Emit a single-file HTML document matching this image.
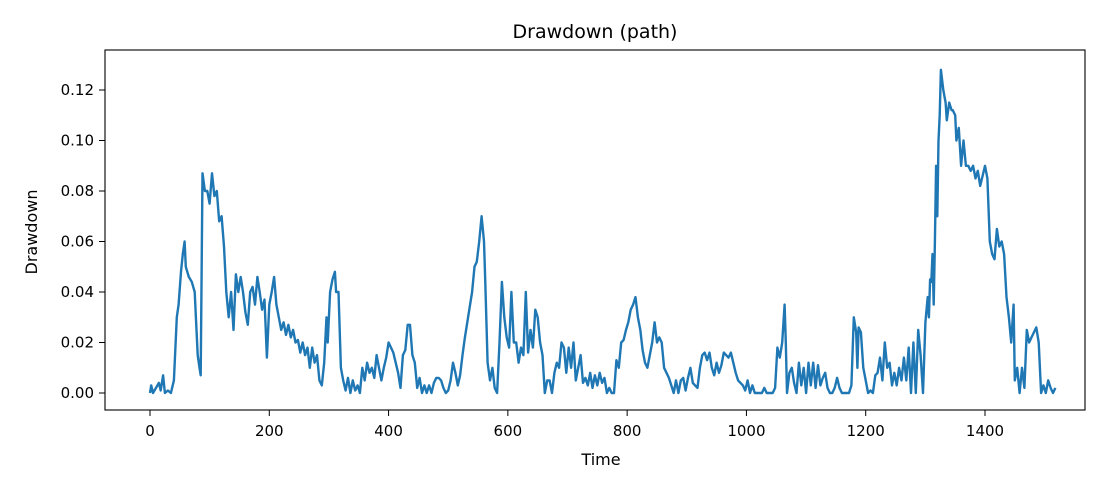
<!DOCTYPE html>
<html><head><meta charset="utf-8"><style>
body{margin:0;background:#fff;font-family:"Liberation Sans","DejaVu Sans",sans-serif}
</style></head><body>
<svg id="chart" width="1120" height="490" xmlns="http://www.w3.org/2000/svg" font-family="DejaVu Sans, Liberation Sans, sans-serif">
<rect width="1120" height="490" fill="#fff"/>
<text x="595" y="38" font-size="19" text-anchor="middle">Drawdown (path)</text>
<text x="601" y="465" font-size="16" text-anchor="middle">Time</text>
<text transform="translate(37,232) rotate(-90)" font-size="16" text-anchor="middle">Drawdown</text>
<g id="ticks"></g>
<path id="line" fill="none" stroke="#1f77b4" stroke-width="2.4" stroke-linejoin="round"/>
<rect x="105" y="50" width="980" height="360" fill="none" stroke="#000" stroke-width="1.1"/>
</svg>
<script>
const times=[0,2,5,10,15,18,22,25,30,35,40,45,48,52,55,58,60,65,70,75,78,80,83,85,88,92,96,100,104,108,112,116,120,124,128,132,136,140,144,148,152,156,160,164,168,172,176,180,184,188,192,196,200,204,208,212,216,220,224,228,232,236,240,244,248,252,256,260,264,268,272,276,280,284,288,292,296,298,302,306,310,312,316,320,324,328,332,336,340,344,348,352,356,360,364,368,372,376,380,384,388,392,396,400,404,408,412,416,420,424,428,432,436,440,444,448,452,456,460,464,468,472,476,480,484,488,492,496,500,504,508,512,516,520,524,528,532,536,540,544,548,552,556,560,562,566,570,574,578,582,586,590,594,598,602,606,610,614,618,622,626,630,634,638,642,646,650,654,658,662,666,670,674,678,682,686,690,694,698,702,706,710,714,718,722,726,730,734,738,742,746,750,754,758,762,766,770,774,778,782,786,790,794,798,802,806,810,814,818,822,826,830,834,838,842,846,850,854,858,862,866,870,874,878,882,886,890,894,898,902,906,910,914,918,922,926,930,934,938,942,946,950,954,958,962,966,970,974,978,982,986,990,994,998,1002,1006,1010,1014,1018,1022,1026,1030,1034,1040,1044,1048,1052,1056,1060,1064,1066,1068,1072,1076,1080,1084,1088,1092,1096,1100,1104,1108,1112,1116,1120,1124,1128,1132,1136,1140,1144,1148,1152,1156,1160,1164,1168,1172,1176,1180,1184,1186,1188,1192,1196,1200,1204,1208,1212,1216,1220,1224,1228,1232,1236,1240,1244,1248,1252,1256,1260,1264,1268,1272,1276,1280,1284,1288,1292,1296,1300,1304,1306,1308,1310,1312,1314,1316,1318,1320,1322,1324,1326,1330,1334,1336,1340,1344,1346,1350,1352,1356,1360,1364,1368,1372,1376,1380,1384,1388,1392,1396,1400,1404,1408,1412,1416,1420,1424,1428,1432,1436,1440,1444,1448,1450,1454,1458,1462,1466,1470,1474,1478,1482,1486,1490,1494,1498,1502,1506,1510,1514,1518];
const values=[0,0.003,0,0.002,0.004,0.001,0.007,0,0.001,0,0.005,0.03,0.035,0.048,0.055,0.06,0.05,0.046,0.044,0.04,0.025,0.015,0.01,0.007,0.087,0.08,0.08,0.075,0.087,0.078,0.08,0.068,0.07,0.058,0.04,0.03,0.04,0.025,0.047,0.04,0.046,0.04,0.032,0.027,0.04,0.042,0.035,0.046,0.04,0.033,0.037,0.014,0.035,0.04,0.046,0.035,0.03,0.025,0.028,0.023,0.027,0.022,0.025,0.02,0.021,0.016,0.02,0.015,0.018,0.01,0.018,0.012,0.015,0.005,0.003,0.012,0.03,0.02,0.04,0.045,0.048,0.04,0.04,0.01,0.005,0.001,0.006,0,0.005,0.001,0.003,0,0.01,0.005,0.012,0.008,0.01,0.006,0.015,0.01,0.005,0.01,0.014,0.02,0.018,0.016,0.012,0.008,0.002,0.015,0.017,0.027,0.027,0.015,0.012,0.002,0.006,0,0.003,0,0.003,0,0.004,0.006,0.006,0.005,0.002,0,0.001,0.005,0.012,0.008,0.003,0.007,0.015,0.022,0.028,0.034,0.04,0.05,0.052,0.06,0.07,0.06,0.045,0.012,0.005,0.01,0.002,0,0.02,0.044,0.03,0.022,0.018,0.04,0.02,0.02,0.012,0.018,0.015,0.04,0.016,0.025,0.018,0.033,0.03,0.02,0.015,0,0.005,0.005,0,0.008,0.012,0.01,0.02,0.018,0.008,0.018,0.01,0.02,0.005,0.01,0.015,0.004,0.006,0.003,0.008,0.002,0.007,0.003,0.008,0.004,0.006,0,0.002,0,0,0.013,0.01,0.02,0.021,0.025,0.028,0.033,0.035,0.038,0.03,0.025,0.017,0.012,0.01,0.015,0.02,0.028,0.02,0.022,0.02,0.01,0.008,0.006,0.003,0,0.005,0,0.005,0.006,0.001,0.006,0.01,0.004,0.003,0.002,0.01,0.015,0.016,0.013,0.016,0.01,0.007,0.012,0.008,0.011,0.016,0.015,0.014,0.016,0.012,0.008,0.005,0.004,0.003,0.001,0.005,0,0.003,0,0,0,0,0.002,0,0,0,0.002,0.018,0.014,0.02,0.035,0.02,0,0.008,0.01,0.004,0,0.012,0.003,0.01,0,0.012,0.003,0.012,0.002,0.011,0.003,0.006,0.008,0.002,0,0,0.002,0.006,0.002,0,0,0,0,0.003,0.03,0.024,0.01,0.026,0.024,0.01,0.005,0,0.001,0,0.007,0.008,0.014,0.005,0.02,0.01,0.012,0.003,0.008,0.003,0.01,0.005,0.014,0.005,0.018,0,0.02,0,0.025,0.015,0,0.028,0.038,0.03,0.045,0.044,0.055,0.035,0.06,0.09,0.07,0.1,0.11,0.128,0.12,0.115,0.108,0.115,0.112,0.112,0.11,0.1,0.105,0.09,0.1,0.09,0.09,0.088,0.09,0.085,0.088,0.082,0.086,0.09,0.085,0.06,0.055,0.053,0.065,0.058,0.06,0.055,0.038,0.03,0.02,0.035,0.005,0.01,0,0.01,0.002,0.025,0.02,0.022,0.024,0.026,0.02,0,0.003,0,0.005,0.002,0,0.002];
const xTicks=[0,200,400,600,800,1000,1200,1400];
const yTicks=[0,0.02,0.04,0.06,0.08,0.10,0.12];
const yTickLabels=["0.00","0.02","0.04","0.06","0.08","0.10","0.12"];
const X=t=>150+t*(835/1400);
const Y=v=>393-v*(303/0.12);
const NS='http://www.w3.org/2000/svg';
const g=document.getElementById('ticks');
xTicks.forEach(t=>{
 const l=document.createElementNS(NS,'line');
 
 
 l.setAttribute('x1',X(t));l.setAttribute('x2',X(t));l.setAttribute('y1',410);l.setAttribute('y2',416);l.setAttribute('stroke','#000');
 g.appendChild(l);
 const tx=document.createElementNS(NS,'text');
 
 
 tx.setAttribute('x',X(t));tx.setAttribute('y',436);tx.setAttribute('font-size','15');tx.setAttribute('text-anchor','middle');
 tx.textContent=t;g.appendChild(tx);
});
yTicks.forEach((v,i)=>{
 const l=document.createElementNS(NS,'line');
 
 
 l.setAttribute('x1',99);l.setAttribute('x2',105);l.setAttribute('y1',Y(v));l.setAttribute('y2',Y(v));l.setAttribute('stroke','#000');
 g.appendChild(l);
 const tx=document.createElementNS(NS,'text');
 
 
 tx.setAttribute('x',94);tx.setAttribute('y',Y(v)+5);tx.setAttribute('font-size','15');tx.setAttribute('text-anchor','end');
 tx.textContent=yTickLabels[i];g.appendChild(tx);
});
document.getElementById('line').setAttribute('d',times.map((t,i)=>(i?'L':'M')+X(t).toFixed(1)+','+Y(values[i]).toFixed(1)).join(''));
</script>
</body></html>
